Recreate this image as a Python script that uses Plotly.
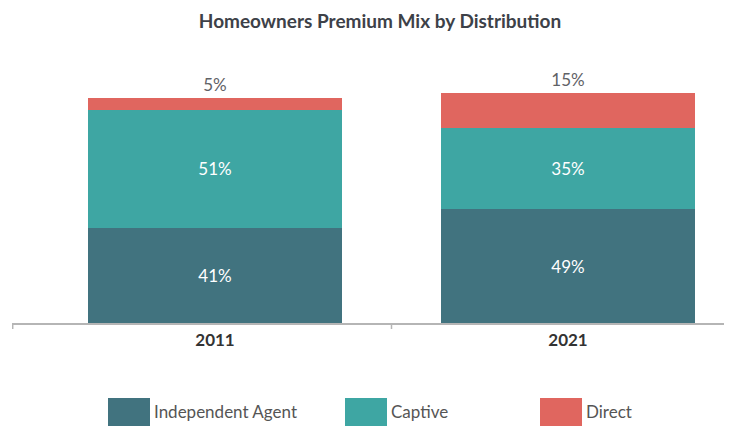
import plotly.graph_objects as go

years = ["2011", "2021"]
channels = ["Independent Agent", "Captive", "Direct"]
independent_agent = [41, 49]
captive = [51, 35]
direct = [5, 15]
colors = ["#41737f", "#3ea6a3", "#e0665f"]

# page body has an 8px margin, so the figure is drawn offset by 8px
OFF = 8
W, H = 732, 426
L, R = 12 - OFF, 0
T, B = 60 - OFF, H - (323 - OFF)
plot_w = W - L - R
plot_h = H - T - B
FONT = "Lato"

# x scale: category centres at page px 215 and 568
unit = 353.0
x_left = 0 - (215 - 12) / unit
x_right = 1 + (L + plot_w + OFF - 568) / unit


def px(xp):
    return (xp - OFF - L) / plot_w


def py(yp):
    return (T + plot_h - (yp - OFF)) / plot_h


fig = go.Figure()
for name, vals, col in zip(channels, [independent_agent, captive, direct], colors):
    is_top = name == "Direct"
    fig.add_trace(go.Bar(
        x=[0, 1], y=vals, name=name, width=254 / unit,
        marker=dict(color=col, line=dict(width=0)),
        text=[f"{v}%" for v in vals],
        textposition="outside" if is_top else "inside",
        insidetextanchor="middle",
        textfont=dict(family=FONT, size=17, color="#5f6266" if is_top else "white"),
        cliponaxis=False,
        showlegend=False,
    ))

fig.update_layout(
    width=W, height=H,
    margin=dict(l=L, r=R, t=T, b=B),
    barmode="stack",
    paper_bgcolor="white", plot_bgcolor="white",
    title=dict(text="<b>Homeowners Premium Mix by Distribution</b>", xref="container",
               x=(380 - OFF) / W, xanchor="center", y=1 - (21 - OFF) / H, yanchor="middle",
               font=dict(family=FONT, size=19, color="#3d4148")),
    xaxis=dict(range=[x_left, x_right], tickvals=[0, 1], ticktext=years,
               showgrid=False, zeroline=False, showline=True, linecolor="#b5b5b5", linewidth=2,
               ticks="", tickfont=dict(family=FONT, size=17, color="#333333", weight="bold"),
               ticklabelstandoff=1),
    yaxis=dict(range=[0, plot_h / 2.32], visible=False),
)

# tick marks on the category boundaries
for xv in [x_left + 0.002, 0.5]:
    fig.add_shape(type="line", xref="x", yref="paper", x0=xv, x1=xv, y0=0, y1=-6 / plot_h,
                  line=dict(color="#b5b5b5", width=1.5))

# custom legend with large swatches
sw_left = [108, 345, 540]
sw_w, sw_top, sw_bot = 42, 398, 430
for name, col, xl in zip(channels, colors, sw_left):
    fig.add_shape(type="rect", xref="paper", yref="paper",
                  x0=px(xl), x1=px(xl + sw_w),
                  y0=py(sw_top), y1=py(sw_bot),
                  fillcolor=col, line=dict(width=0), layer="above")
    fig.add_annotation(text=name, xref="paper", yref="paper",
                       x=px(xl + sw_w + 2), y=py(411),
                       xanchor="left", yanchor="middle", showarrow=False,
                       font=dict(family=FONT, size=17, color="#555555"))

fig.write_html("out.html")
